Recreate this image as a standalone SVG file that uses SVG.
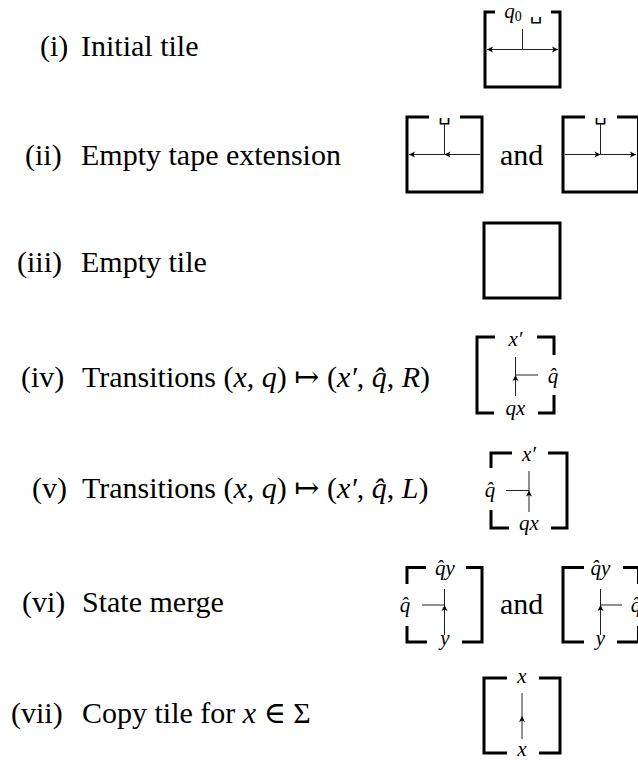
<svg xmlns="http://www.w3.org/2000/svg" width="638" height="760" viewBox="0 0 638 760">
<style>
.t{font-family:"Liberation Serif","DejaVu Serif",serif;font-size:30px;fill:#000}
.m{font-style:italic}
.lb{font-family:"Liberation Serif","DejaVu Serif",serif;font-size:21px;font-style:italic;fill:#000;text-anchor:middle}
.sp{font-family:"DejaVu Sans",sans-serif;font-size:20px;fill:#000;text-anchor:middle}
.b{fill:none;stroke:#000;stroke-width:3;stroke-linecap:butt;stroke-linejoin:miter}
.w{fill:none;stroke:#222;stroke-width:1}
.a{marker-end:url(#ah)}
</style>
<defs>
<marker id="ah" viewBox="-7 -4 8 8" markerWidth="8" markerHeight="8" refX="0" refY="0" orient="auto" markerUnits="userSpaceOnUse">
<path d="M0,0 L-6,-3 L-4.5,0 L-6,3 Z" fill="#000"/>
</marker>
</defs>

<g id="labels">
<text class="t" x="40" y="56">(i)</text><text class="t" x="81" y="56">Initial tile</text>
<text class="t" x="25" y="165">(ii)</text><text class="t" x="81" y="165">Empty tape extension</text>
<text class="t" x="17" y="272">(iii)</text><text class="t" x="81" y="272">Empty tile</text>
<text class="t" x="21" y="387">(iv)</text><text class="t" x="82" y="387">Transitions (<tspan class="m">x</tspan>, <tspan class="m">q</tspan>) ↦ (<tspan class="m">x′</tspan>, <tspan class="m">q̂</tspan>, <tspan class="m">R</tspan>)</text>
<text class="t" x="32" y="498">(v)</text><text class="t" x="82" y="498">Transitions (<tspan class="m">x</tspan>, <tspan class="m">q</tspan>) ↦ (<tspan class="m">x′</tspan>, <tspan class="m">q̂</tspan>, <tspan class="m">L</tspan>)</text>
<text class="t" x="22" y="612">(vi)</text><text class="t" x="82" y="612">State merge</text>
<text class="t" x="11" y="723">(vii)</text><text class="t" x="82" y="723">Copy tile for <tspan class="m">x</tspan> ∈ Σ</text>
<text class="t" x="500" y="165">and</text>
<text class="t" x="500" y="614">and</text>
</g>

<g id="tile-i">
<path class="b" d="M495,12 H485 V87 H560 V12 H551"/>
<text class="lb" x="513" y="18">q<tspan font-size="14" font-style="normal" dy="3">0</tspan></text>
<text class="sp" x="536" y="19">␣</text>
</g>

<g id="tile-iia">
<path class="b" d="M429,117 H407 V192 H482 V117 H460"/>
<text class="sp" x="444.5" y="120">␣</text>
</g>

<g id="tile-iib">
<path class="b" d="M585,117 H563 V192 H638.5 V117 H617"/>
<text class="sp" x="600.5" y="120">␣</text>
</g>

<g id="tile-iii">
<rect class="b" x="484" y="223" width="76" height="75"/>
</g>

<g id="tile-iv">
<path class="b" d="M495,337 H477 V413 H494"/>
<path class="b" d="M537,337 H554 V355 M554,395 V413 H538"/>
<text class="lb" x="515.5" y="346">x′</text>
<text class="lb" x="515.5" y="415">qx</text>
<text class="lb" x="553" y="383">q̂</text>
</g>

<g id="tile-v">
<path class="b" d="M512,453 H491 V468 M491,510 V528 H509"/>
<path class="b" d="M548,453 H567 V528 H551"/>
<text class="lb" x="529" y="461">x′</text>
<text class="lb" x="529" y="530">qx</text>
<text class="lb" x="490" y="497">q̂</text>
</g>

<g id="tile-via">
<path class="b" d="M426,567.5 H407 V584 M407,626 V642 H427"/>
<path class="b" d="M466,567.5 H482 V642 H462"/>
<text class="lb" x="445" y="575">q̂y</text>
<text class="lb" x="445" y="645">y</text>
<text class="lb" x="405" y="612">q̂</text>
</g>

<g id="tile-vib">
<path class="b" d="M584,567.5 H563 V642 H584"/>
<path class="b" d="M623,567.5 H638.5 V584 M638.5,626 V642 H617"/>
<text class="lb" x="600.5" y="575">q̂y</text>
<text class="lb" x="600.5" y="645">y</text>
<text class="lb" x="636" y="612">q̂</text>
</g>

<g id="tile-vii">
<path class="b" d="M507,678 H484 V753 H507"/>
<path class="b" d="M539,678 H560 V753 H539"/>
<text class="lb" x="522" y="683">x</text>
<text class="lb" x="522" y="756">x</text>
</g>

<g id="connectors">
<line class="w" x1="522.5" y1="29" x2="522.5" y2="49.5"/>
<line class="w a" x1="522.5" y1="49.5" x2="487" y2="49.5"/>
<line class="w a" x1="522.5" y1="49.5" x2="558" y2="49.5"/>

<line class="w" x1="444.5" y1="124" x2="444.5" y2="154.5"/>
<line class="w a" x1="480" y1="154.5" x2="444.5" y2="154.5"/>
<line class="w a" x1="444.5" y1="154.5" x2="409" y2="154.5"/>

<line class="w" x1="600.5" y1="124" x2="600.5" y2="154.5"/>
<line class="w a" x1="565" y1="154.5" x2="600.5" y2="154.5"/>
<line class="w a" x1="600.5" y1="154.5" x2="636" y2="154.5"/>

<line class="w a" x1="515.5" y1="396" x2="515.5" y2="375"/>
<line class="w" x1="515.5" y1="375" x2="515.5" y2="357"/>
<line class="w" x1="515.5" y1="375" x2="538" y2="375"/>

<line class="w a" x1="529" y1="512" x2="529" y2="490.5"/>
<line class="w" x1="529" y1="490.5" x2="529" y2="471"/>
<line class="w" x1="529" y1="490.5" x2="506" y2="490.5"/>

<line class="w a" x1="444.5" y1="635" x2="444.5" y2="605"/>
<line class="w" x1="444.5" y1="605" x2="444.5" y2="589"/>
<line class="w" x1="444.5" y1="605" x2="422" y2="605"/>

<line class="w a" x1="600.5" y1="635" x2="600.5" y2="605"/>
<line class="w" x1="600.5" y1="605" x2="600.5" y2="589"/>
<line class="w" x1="600.5" y1="605" x2="622" y2="605"/>

<line class="w a" x1="522" y1="739" x2="522" y2="716"/>
<line class="w" x1="522" y1="716" x2="522" y2="693"/>
</g>
</svg>
